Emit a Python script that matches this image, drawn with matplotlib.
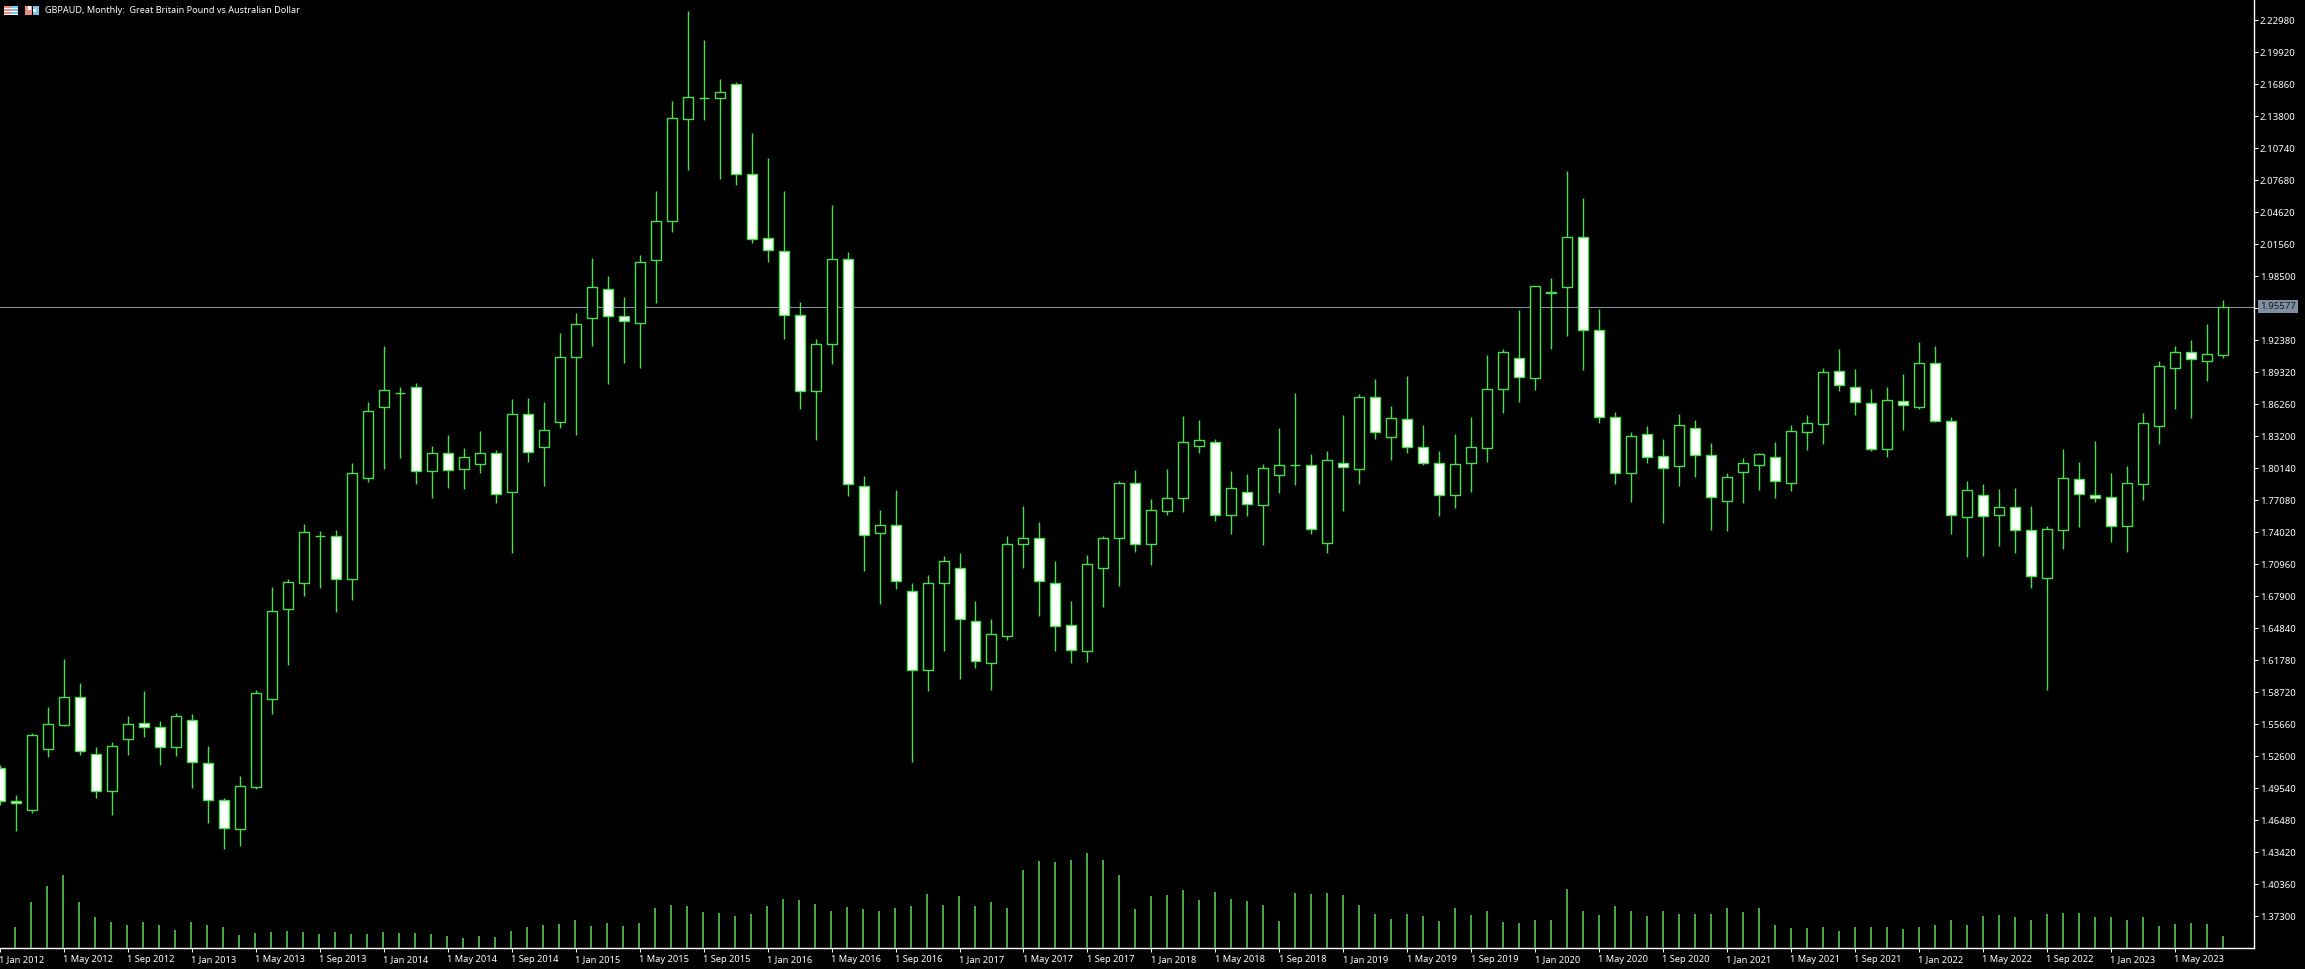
import matplotlib
matplotlib.use("Agg")
import matplotlib.pyplot as plt
from matplotlib.patches import Rectangle
from matplotlib.transforms import IdentityTransform

# monthly candles, Jan 2012 .. Aug 2023
month_names = ["Jan", "May", "Sep"]
first_year = 2012

opens = [1.5148, 1.4837, 1.4749, 1.5327, 1.5562, 1.5824, 1.5285, 1.4925, 1.5423, 1.5576,
         1.5543, 1.5352, 1.5604, 1.5199, 1.4839, 1.4568, 1.4969, 1.5805, 1.6671, 1.6920,
         1.7364, 1.7364, 1.6952, 1.7924, 1.8603, 1.8737, 1.8789, 1.7985, 1.8163, 1.8004,
         1.8052, 1.8157, 1.7785, 1.8530, 1.8221, 1.8460, 1.9081, 1.9448, 1.9731, 1.9468,
         1.9406, 2.0009, 2.0376, 2.1351, 2.1555, 2.1552, 2.1686, 2.0825, 2.0213, 2.0089,
         1.9477, 1.8750, 1.9200, 2.0013, 1.7841, 1.7400, 1.7468, 1.6837, 1.6081, 1.6922,
         1.7059, 1.6557, 1.6157, 1.6413, 1.7294, 1.7346, 1.6915, 1.6512, 1.6270, 1.7059,
         1.7346, 1.7872, 1.7294, 1.7609, 1.7728, 1.8223, 1.8261, 1.7564, 1.7789, 1.7667,
         1.7946, 1.8046, 1.8048, 1.7297, 1.8062, 1.8010, 1.8693, 1.8310, 1.8483, 1.8221,
         1.8062, 1.7756, 1.8062, 1.8205, 1.8769, 1.9066, 1.8880, 1.9703, 1.9745, 2.0229,
         1.9334, 1.8502, 1.7966, 1.8339, 1.8129, 1.8033, 1.8397, 1.8138, 1.7698, 1.7976,
         1.8043, 1.8125, 1.7871, 1.8358, 1.8441, 1.8942, 1.8794, 1.8641, 1.8201, 1.8655,
         1.8603, 1.9018, 1.8469, 1.7545, 1.7762, 1.7565, 1.7641, 1.7421, 1.6962, 1.7421,
         1.7915, 1.7762, 1.7742, 1.7459, 1.7861, 1.8416, 1.8970, 1.9129, 1.9037, 1.9100]

highs = [1.5177, 1.4890, 1.5483, 1.5734, 1.6193, 1.5961, 1.5349, 1.5394, 1.5645, 1.5887,
         1.5598, 1.5671, 1.5662, 1.5359, 1.4858, 1.5069, 1.5891, 1.6882, 1.6952, 1.7481,
         1.7417, 1.7424, 1.8065, 1.8648, 1.9186, 1.8794, 1.8827, 1.8227, 1.8332, 1.8205,
         1.8371, 1.8189, 1.8677, 1.8686, 1.8648, 1.9308, 1.9499, 2.0028, 1.9853, 1.9649,
         2.0051, 2.0666, 2.1526, 2.2387, 2.2110, 2.1737, 2.1708, 2.1220, 2.0981, 2.0666,
         1.9601, 1.9250, 2.0532, 2.0079, 1.7940, 1.7615, 1.7810, 1.6922, 1.6994, 1.7175,
         1.7205, 1.6745, 1.6573, 1.7367, 1.7654, 1.7501, 1.7128, 1.6745, 1.7189, 1.7367,
         1.7893, 1.7998, 1.7720, 1.8007, 1.8514, 1.8480, 1.8291, 1.7988, 1.7960, 1.8052,
         1.8400, 1.8735, 1.8151, 1.8179, 1.8524, 1.8725, 1.8871, 1.8610, 1.8897, 1.8428,
         1.8179, 1.8345, 1.8505, 1.9100, 1.9152, 1.9528, 1.9762, 1.9834, 2.0860, 2.0599,
         1.9537, 1.8552, 1.8358, 1.8421, 1.8294, 1.8533, 1.8476, 1.8256, 1.7969, 1.8110,
         1.8157, 1.8263, 1.8425, 1.8524, 1.8973, 1.9155, 1.8964, 1.8772, 1.8791, 1.8916,
         1.9222, 1.9183, 1.8505, 1.7893, 1.7864, 1.7816, 1.7823, 1.7656, 1.7462, 1.8199,
         1.8074, 1.8275, 1.7969, 1.8036, 1.8543, 1.9040, 1.9183, 1.9241, 1.9394, 1.9623]

lows = [1.4794, 1.4548, 1.4721, 1.5253, 1.5550, 1.5275, 1.4861, 1.4699, 1.5272, 1.5445,
        1.5177, 1.5263, 1.4957, 1.4622, 1.4374, 1.4399, 1.4947, 1.5667, 1.6133, 1.6793,
        1.6869, 1.6640, 1.6755, 1.7880, 1.8007, 1.8115, 1.7864, 1.7730, 1.7829, 1.7816,
        1.7972, 1.7682, 1.7204, 1.8074, 1.7845, 1.8399, 1.8332, 1.9183, 1.8820, 1.9021,
        1.8973, 1.9595, 2.0277, 2.0867, 2.1345, 2.0780, 2.0723, 2.0171, 1.9987, 1.9250,
        1.8581, 1.8285, 1.9011, 1.7752, 1.7032, 1.6717, 1.6864, 1.5210, 1.5884, 1.6267,
        1.6003, 1.6105, 1.5894, 1.6376, 1.7062, 1.6602, 1.6267, 1.6153, 1.6162, 1.6683,
        1.6889, 1.7209, 1.7086, 1.7567, 1.7598, 1.8161, 1.7513, 1.7386, 1.7558, 1.7281,
        1.7779, 1.7854, 1.7389, 1.7207, 1.7606, 1.7864, 1.8297, 1.8093, 1.8163, 1.8046,
        1.7558, 1.7634, 1.7790, 1.8074, 1.8543, 1.8648, 1.8763, 1.9152, 1.9279, 1.8954,
        1.8447, 1.7864, 1.7692, 1.8065, 1.7491, 1.7842, 1.7931, 1.7424, 1.7414, 1.7682,
        1.7807, 1.7730, 1.7797, 1.8186, 1.8246, 1.8756, 1.8524, 1.8182, 1.8125, 1.8377,
        1.8581, 1.8457, 1.7383, 1.7166, 1.7175, 1.7271, 1.7204, 1.6869, 1.5894, 1.7239,
        1.7453, 1.7689, 1.7306, 1.7214, 1.7711, 1.8246, 1.8581, 1.8495, 1.8849, 1.9069]

closes = [1.4833, 1.4816, 1.5461, 1.5566, 1.5824, 1.5308, 1.4925, 1.5356, 1.5566, 1.5537,
          1.5346, 1.5643, 1.5203, 1.4839, 1.4572, 1.4973, 1.5862, 1.6649, 1.6924, 1.7402,
          1.7364, 1.6952, 1.7966, 1.8559, 1.8760, 1.8737, 1.7985, 1.8157, 1.7995, 1.8125,
          1.8157, 1.7765, 1.8530, 1.8167, 1.8377, 1.9075, 1.9391, 1.9745, 1.9468, 1.9420,
          1.9984, 2.0376, 2.1361, 2.1562, 2.1555, 2.1610, 2.0825, 2.0204, 2.0099, 1.9477,
          1.8750, 1.9200, 2.0013, 1.7861, 1.7380, 1.7468, 1.6933, 1.6081, 1.6922, 1.7124,
          1.6570, 1.6168, 1.6427, 1.7287, 1.7352, 1.6939, 1.6502, 1.6273, 1.7096, 1.7346,
          1.7878, 1.7287, 1.7611, 1.7728, 1.8261, 1.8281, 1.7564, 1.7824, 1.7670, 1.8015,
          1.8049, 1.8046, 1.7431, 1.8091, 1.8024, 1.8693, 1.8358, 1.8492, 1.8215, 1.8068,
          1.7756, 1.8052, 1.8215, 1.8769, 1.9123, 1.8884, 1.9754, 1.9687, 2.0223, 1.9334,
          1.8502, 1.7966, 1.8320, 1.8119, 1.8014, 1.8425, 1.8138, 1.7737, 1.7928, 1.8062,
          1.8148, 1.7895, 1.8368, 1.8444, 1.8932, 1.8808, 1.8645, 1.8201, 1.8664, 1.8616,
          1.9018, 1.8469, 1.7565, 1.7804, 1.7555, 1.7641, 1.7421, 1.6981, 1.7431, 1.7918,
          1.7765, 1.7727, 1.7459, 1.7871, 1.8444, 1.8989, 1.9123, 1.9056, 1.9104, 1.95577]

# tick volume, arbitrary units
volumes = [25, 21, 46, 62, 73, 46, 31, 26, 23, 26, 23, 18, 26, 23, 21, 13, 15, 16, 17, 16,
           14, 16, 14, 14, 16, 15, 15, 14, 12, 10, 12, 11, 17, 21, 23, 24, 28, 22, 25, 22,
           25, 40, 43, 42, 36, 35, 32, 34, 42, 49, 48, 44, 37, 41, 39, 37, 40, 42, 54, 43,
           52, 42, 46, 40, 78, 87, 86, 88, 95, 88, 73, 39, 52, 53, 58, 48, 56, 49, 47, 43,
           27, 55, 54, 55, 53, 43, 34, 29, 34, 32, 27, 40, 33, 37, 26, 25, 28, 28, 59, 37,
           33, 42, 37, 32, 37, 34, 34, 34, 40, 36, 40, 23, 20, 20, 21, 17, 21, 21, 21, 19,
           21, 23, 28, 23, 32, 33, 31, 28, 34, 35, 35, 31, 31, 28, 31, 22, 24, 25, 24, 12]

price_labels = ["2.22980", "2.19920", "2.16860", "2.13800", "2.10740", "2.07680", "2.04620", "2.01560",
                "1.98500", "1.95440", "1.92380", "1.89320", "1.86260", "1.83200", "1.80140", "1.77080",
                "1.74020", "1.70960", "1.67900", "1.64840", "1.61780", "1.58720", "1.55660", "1.52600",
                "1.49540", "1.46480", "1.43420", "1.40360", "1.37300"]

title = "GBPAUD, Monthly:  Great Britain Pound vs Australian Dollar"

GREEN = "#4be04b"
VOL_GREEN = "#55c855"
SLATE = "#8a939c"

plt.rcParams["font.family"] = ["Noto Sans", "DejaVu Sans"]

W, H = 2305, 969
fig = plt.figure(figsize=(W / 100, H / 100), dpi=100, facecolor="black")
rect = [0, 21 / H, 2254.2 / W, 948 / H]
ax = fig.add_axes(rect, facecolor="black")
vol_ax = fig.add_axes(rect, frameon=False)
vol_ax.axis("off")

xs = list(range(len(opens)))
ax.vlines(xs, lows, highs, color=GREEN, lw=1.0, zorder=2)
for x, o, c in zip(xs, opens, closes):
    top = max(o, c)
    bottom = min(o, c)
    face = "white" if o > c else "black"
    ax.bar(x, top - bottom, bottom=bottom, width=0.625, facecolor=face, edgecolor=GREEN, lw=1.0, zorder=3)

ax.set_xlim(0.075, 140.96)
ax.set_ylim(1.34270, 2.24921)
vol_ax.set_xlim(ax.get_xlim())
vol_ax.set_ylim(0, 948)
vol_ax.vlines(xs, 0, volumes, color=VOL_GREEN, lw=1.2)

# price axis
ax.yaxis.tick_right()
ax.set_yticks([float(s) for s in price_labels], price_labels)
ax.tick_params(axis="y", colors="white", length=2.6, width=0.7, pad=1.5, labelsize=6.9)

# time axis, one label every 4 months
time_ticks = xs[::4]
ax.set_xticks(time_ticks, [""] * len(time_ticks))
ax.tick_params(axis="x", colors="white", length=3, width=0.7, direction="out")
for n, x in enumerate(time_ticks):
    label = "1 %s %d" % (month_names[n % 3], first_year + n // 3)
    ax.annotate(label, xy=(x, 0), xycoords=("data", "axes fraction"), xytext=(-0.5, -5), textcoords="offset points",
                color="white", fontsize=6.7, ha="left", va="top", annotation_clip=False)

for side in ["left", "top"]:
    ax.spines[side].set_visible(False)
for side in ["right", "bottom"]:
    ax.spines[side].set_color("white")
    ax.spines[side].set_linewidth(1.0)

# current price line and tag
last = closes[-1]
ax.axhline(last, color=SLATE, lw=0.75, zorder=1)
ax.annotate("%.5f" % last, xy=(1, last), xycoords=("axes fraction", "data"), xytext=(4.2, 0),
            textcoords="offset points", color="#14181c", fontsize=6.9, ha="left", va="center", zorder=6,
            annotation_clip=False, bbox=dict(boxstyle="square,pad=0.2", fc="#7f8fa3", ec="none"))

fig.text(45.5 / W, 1 - 10.5 / H, title, color="white", fontsize=6.55, ha="left", va="center")


# small toolbar icons, top-left corner
def icon_box(x, y, w, h, color):
    fig.add_artist(Rectangle((x, H - y - h), w, h, facecolor=color, edgecolor="none", transform=IdentityTransform()))


icon_box(4, 6, 7, 9, "#e88b80")
icon_box(11, 6, 7, 9, "#7fc4ee")
for row in [8, 11, 14]:
    icon_box(4, row, 14, 1, "white")
icon_box(25, 6, 7, 9, "#e88b80")
icon_box(33, 6, 6, 9, "#7fc4ee")
icon_box(28, 6, 3, 4, "white")
icon_box(33, 9, 3, 3, "white")

fig.savefig("out.png", dpi=100, facecolor="black")
